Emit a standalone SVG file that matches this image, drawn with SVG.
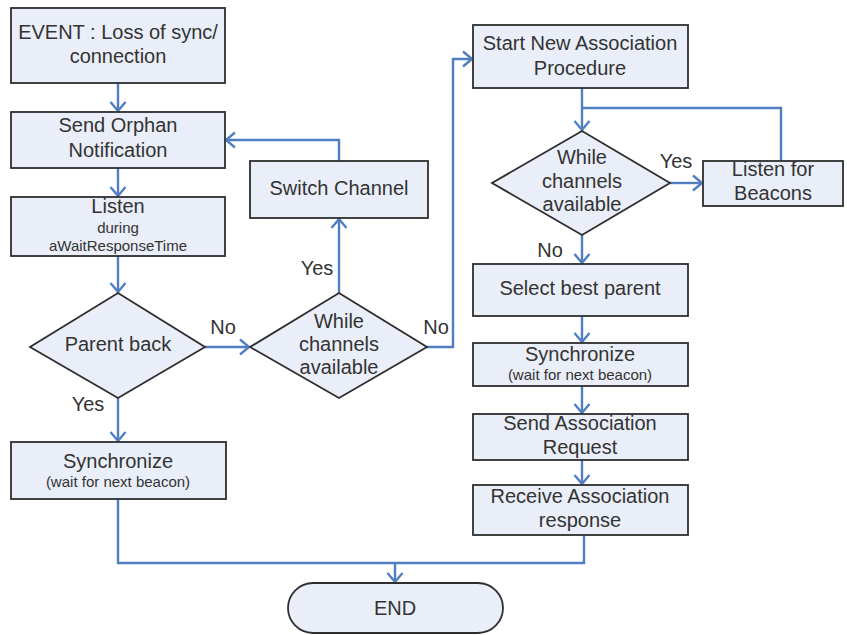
<svg xmlns="http://www.w3.org/2000/svg" width="847" height="635" viewBox="0 0 847 635">
<defs>
<marker id="arr" markerUnits="userSpaceOnUse" markerWidth="20" markerHeight="20" refX="10" refY="8" orient="auto" viewBox="0 0 20 16">
<path d="M1,0.5 L10,8 L1,15.5" fill="none" stroke="#4f7fc0" stroke-width="2.4"/>
</marker>
</defs>
<style>
.box{fill:#e9eef8;stroke:#2e2e2e;stroke-width:1.8}
.t{font-family:"Liberation Sans",Arial,sans-serif;font-size:20px;fill:#333333;text-anchor:middle}
.s{font-family:"Liberation Sans",Arial,sans-serif;font-size:15px;fill:#333333;text-anchor:middle}
.c{fill:none;stroke:#4f7fc0;stroke-width:2.4}
</style>
<rect width="847" height="635" fill="#ffffff"/>
<g id="connectors">
<path class="c" d="M118,83 V111" marker-end="url(#arr)"/>
<path class="c" d="M118,168 V196" marker-end="url(#arr)"/>
<path class="c" d="M118,256 V292" marker-end="url(#arr)"/>
<path class="c" d="M205,347 H249" marker-end="url(#arr)"/>
<path class="c" d="M339,293 V219" marker-end="url(#arr)"/>
<path class="c" d="M339,161 V140 H226" marker-end="url(#arr)"/>
<path class="c" d="M427,347 H453 V59 H472" marker-end="url(#arr)"/>
<path class="c" d="M582,88 V130" marker-end="url(#arr)"/>
<path class="c" d="M781,161 V108 H582"/>
<path class="c" d="M670,183 H702" marker-end="url(#arr)"/>
<path class="c" d="M582,235 V263" marker-end="url(#arr)"/>
<path class="c" d="M582,316 V342" marker-end="url(#arr)"/>
<path class="c" d="M582,386 V413" marker-end="url(#arr)"/>
<path class="c" d="M582,460 V484" marker-end="url(#arr)"/>
<path class="c" d="M118,398 V441" marker-end="url(#arr)"/>
<path class="c" d="M118,499 V563 H584 V535"/>
<path class="c" d="M395,563 V582" marker-end="url(#arr)"/>
</g>
<g id="event">
<rect class="box" x="11" y="8" width="214" height="75"/>
<text class="t" x="118" y="39">EVENT : Loss of sync/</text>
<text class="t" x="118" y="63">connection</text>
</g>
<g id="orphan">
<rect class="box" x="11" y="112" width="214" height="56"/>
<text class="t" x="118" y="132">Send Orphan</text>
<text class="t" x="118" y="157">Notification</text>
</g>
<g id="listen">
<rect class="box" x="11" y="197" width="214" height="59"/>
<text class="t" x="118" y="213">Listen</text>
<text class="s" x="118" y="233">during</text>
<text class="s" x="118" y="251">aWaitResponseTime</text>
</g>
<g id="parentback">
<polygon class="box" points="118,293 205,347 118,398 30,347"/>
<text class="t" x="118" y="351">Parent back</text>
</g>
<g id="while1">
<polygon class="box" points="339,293 427,347 339,398 250,347"/>
<text class="t" x="339" y="328">While</text>
<text class="t" x="339" y="351">channels</text>
<text class="t" x="339" y="374">available</text>
</g>
<g id="switch">
<rect class="box" x="250" y="161" width="178" height="57"/>
<text class="t" x="339" y="195">Switch Channel</text>
</g>
<g id="sync1">
<rect class="box" x="11" y="442" width="215" height="57"/>
<text class="t" x="118" y="468">Synchronize</text>
<text class="s" x="118" y="487">(wait for next beacon)</text>
</g>
<g id="startnew">
<rect class="box" x="473" y="25" width="215" height="63"/>
<text class="t" x="580" y="50">Start New Association</text>
<text class="t" x="580" y="75">Procedure</text>
</g>
<g id="while2">
<polygon class="box" points="582,131 670,183 582,235 492,183"/>
<text class="t" x="582" y="164">While</text>
<text class="t" x="582" y="188">channels</text>
<text class="t" x="582" y="211">available</text>
</g>
<g id="beacons">
<rect class="box" x="703" y="161" width="140" height="45"/>
<text class="t" x="773" y="176">Listen for</text>
<text class="t" x="773" y="200">Beacons</text>
</g>
<g id="bestparent">
<rect class="box" x="473" y="264" width="215" height="52"/>
<text class="t" x="580" y="295">Select best parent</text>
</g>
<g id="sync2">
<rect class="box" x="473" y="343" width="215" height="43"/>
<text class="t" x="580" y="361">Synchronize</text>
<text class="s" x="580" y="380">(wait for next beacon)</text>
</g>
<g id="assocreq">
<rect class="box" x="473" y="414" width="215" height="46"/>
<text class="t" x="580" y="430">Send Association</text>
<text class="t" x="580" y="454">Request</text>
</g>
<g id="assocresp">
<rect class="box" x="473" y="485" width="215" height="50"/>
<text class="t" x="580" y="503">Receive Association</text>
<text class="t" x="580" y="527">response</text>
</g>
<g id="end">
<rect class="box" x="288" y="583" width="215" height="50" rx="25" ry="25"/>
<text class="t" x="395" y="615">END</text>
</g>
<g id="labels">
<text class="t" x="223" y="334">No</text>
<text class="t" x="436" y="334">No</text>
<text class="t" x="88" y="411">Yes</text>
<text class="t" x="317" y="275">Yes</text>
<text class="t" x="676" y="168">Yes</text>
<text class="t" x="550" y="257">No</text>
</g>
</svg>
